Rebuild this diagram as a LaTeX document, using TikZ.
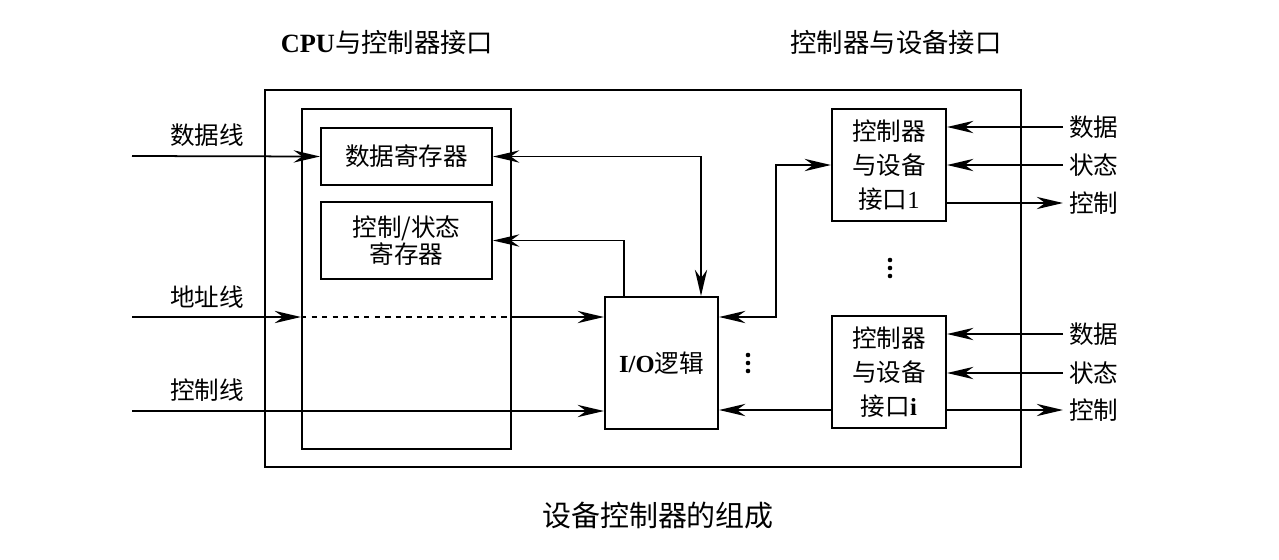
\documentclass[tikz,border=0pt]{standalone}
\usepackage{fontspec}
\setmainfont{Liberation Serif}
\newfontfamily\cjk{Noto Sans CJK SC}
\usetikzlibrary{arrows.meta, calc, positioning}
\tikzset{box/.style = {draw, line width=1.2pt, inner sep=0pt, align=center}}
\tikzset{txt/.style = {font=\cjk\fontsize{14}{17}\selectfont}}
\tikzset{dot/.style = {circle, fill, inner sep=0pt, minimum size=2.6pt}}
\tikzset{conn/.style = {line width=1pt, -{Stealth[length=15pt, width=7pt]}}}
\tikzset{both/.style = {line width=1pt, {Stealth[length=15pt, width=7pt]}-{Stealth[length=15pt, width=7pt]}}}

\begin{document}
\begin{tikzpicture}[x=0.02cm, y=-0.02cm]
\useasboundingbox (0,0) rectangle (1279,559);

% titles
\node[font=\cjk\fontsize{15}{18}\selectfont] (ttlcpu) at (387,42) {{\bfseries\rmfamily CPU}与控制器接口};
\node[font=\cjk\fontsize{15}{18}\selectfont] (ttldev) at (896,42) {控制器与设备接口};

% boxes
\node[box, minimum width=15.12cm, minimum height=7.54cm] (outer) at (643,278.5) {};
\node[box, minimum width=4.18cm, minimum height=6.8cm] (cpu) at (406.5,279) {};
\node[box, txt, minimum width=3.42cm, minimum height=1.14cm] (datareg) at (406.5,156.5) {数据寄存器};
\node[box, minimum width=3.42cm, minimum height=1.54cm, font=\cjk\fontsize{14}{15}\selectfont] (csreg) at (406.5,240.5) {控制/状态\\寄存器};
\node[box, txt, minimum width=2.26cm, minimum height=2.64cm] (io) at (661.5,363) {{\bfseries\rmfamily I/O}逻辑};
\node[box, minimum width=2.28cm, minimum height=2.24cm, font=\cjk\fontsize{14}{19.5}\selectfont] (dev1) at (889,165) {控制器\\与设备\\接口{\rmfamily 1}};
\node[box, minimum width=2.28cm, minimum height=2.24cm, font=\cjk\fontsize{14}{19.5}\selectfont] (devi) at (889,372) {控制器\\与设备\\接口{\bfseries\rmfamily i}};

% dots
\node[dot] (dv1) at (890,260) {};
\node[dot] (dv2) at (890,268) {};
\node[dot] (dv3) at (890,276) {};
\node[dot] (dio1) at (748,355) {};
\node[dot] (dio2) at (748,363) {};
\node[dot] (dio3) at (748,371) {};

% CPU side lines
\node[txt] (lbldata) at (207,135) {数据线};
\node[txt] (lbladdr) at (207,297) {地址线};
\node[txt] (lblctrl) at (207,390) {控制线};
\coordinate (dIn) at (132,156);
\coordinate (aIn) at (132,317);
\coordinate (cIn) at (132,411);
\draw[conn] (dIn) -- (datareg.west);
\draw[conn] (aIn) -- (aIn -| cpu.west);
\draw[line width=1pt, dashed] (aIn -| cpu.west) -- (aIn -| cpu.east);
\draw[conn] (aIn -| cpu.east) -- (aIn -| io.west);
\draw[conn] (cIn) -- (cIn -| io.west);

% internal lines
\draw[both] (datareg.east) -| ($(io.north)+(39.5,0)$);
\draw[conn] ($(io.north)+(-37.5,0)$) |- (csreg.east);
\coordinate (ioUp) at ($(io.east)+(0,-46)$);
\draw[both] (ioUp) -- ($(ioUp)+(57,0)$) |- (dev1.west);
\coordinate (ioDn) at ($(devi.west)+(0,38)$);
\draw[conn] (ioDn) -- (ioDn -| io.east);

% device side lines
\node[txt, anchor=west] (d1data) at (1063,127) {数据};
\node[txt, anchor=west] (d1stat) at (1063,165) {状态};
\node[txt, anchor=west] (d1ctrl) at (1063,203) {控制};
\draw[conn] (d1data.west) -- (d1data.west -| dev1.east);
\draw[conn] (d1stat.west) -- (d1stat.west -| dev1.east);
\draw[conn] (d1ctrl.west -| dev1.east) -- (d1ctrl.west);
\node[txt, anchor=west] (dIdata) at (1063,334) {数据};
\node[txt, anchor=west] (dIstat) at (1063,373) {状态};
\node[txt, anchor=west] (dIctrl) at (1063,410) {控制};
\draw[conn] (dIdata.west) -- (dIdata.west -| devi.east);
\draw[conn] (dIstat.west) -- (dIstat.west -| devi.east);
\draw[conn] (dIctrl.west -| devi.east) -- (dIctrl.west);

% caption
\node[font=\cjk\fontsize{16.5}{20}\selectfont] (caption) at (658,516) {设备控制器的组成};
\end{tikzpicture}
\end{document}
